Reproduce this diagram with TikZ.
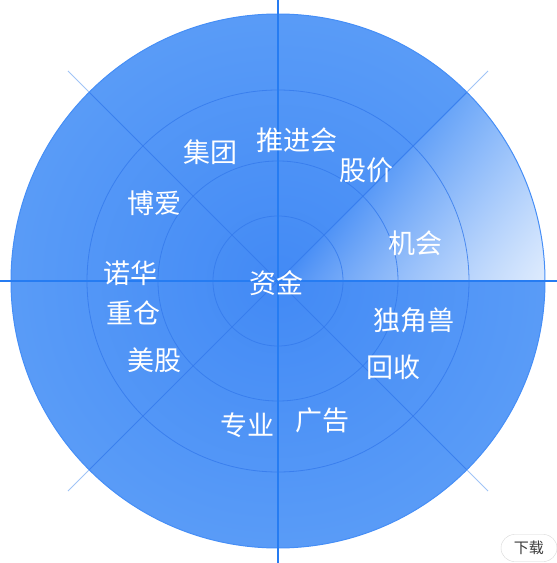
\documentclass[tikz,border=0pt]{standalone}
\usepackage{fontspec}
\newfontfamily\cjk{Noto Sans CJK SC}
\usetikzlibrary{shapes.misc}
\definecolor{gridline}{RGB}{52,122,236}
\definecolor{axisline}{RGB}{38,124,242}
\definecolor{rimline}{RGB}{70,142,246}
\definecolor{spokeout}{RGB}{160,196,246}
\definecolor{btnedge}{RGB}{215,215,215}
\definecolor{btntext}{RGB}{60,60,60}
% blue disc, white sweep between 0 and 45 degrees
\pgfdeclarefunctionalshading{radar}{\pgfpointorigin}{\pgfpoint{100bp}{100bp}}{}{
  50.0013 sub exch 50.0017 sub
  2 copy dup mul exch dup mul add sqrt 25 div
  3 1 roll atan
  dup 45 le {45 div 1.3 exp 0.85 mul 1 exch sub} {pop 0} ifelse
  1 index 0.85 exp mul 0.8 mul
  dup 1 gt {pop 1} if
  1 index 0.09 mul 0.26 add 1 index 1 exch sub mul 1 index add 3 1 roll
  1 index 0.07 mul 0.54 add 1 index 1 exch sub mul 1 index add 3 1 roll
  1 index 0.01 mul 0.96 add 1 index 1 exch sub mul 1 index add 3 1 roll
  pop pop
}
\tikzset{
  ring/.style={draw=gridline,line width=0.8pt,draw opacity=0.8},
  rim/.style={draw=rimline,line width=1pt},
  spoke/.style={draw=gridline,line width=0.8pt,draw opacity=0.8},
  spoke out/.style={draw=spokeout,line width=0.8pt},
  axis/.style={draw=axisline,line width=1.5pt},
  word/.style={text=white,inner sep=0pt,font=\cjk\fontsize{27}{27}\selectfont},
  btn/.style={rounded rectangle,draw=btnedge,fill=white,text=btntext,
    minimum width=56pt,minimum height=27pt,inner sep=0pt,
    font=\cjk\fontsize{15}{15}\selectfont},
}
\begin{document}
\begin{tikzpicture}[x=1pt,y=1pt]
  \useasboundingbox (-278,-282) rectangle (279,281);
  \coordinate (O) at (0,0);
  \shade[shading=radar] (O) circle (267);
  \foreach \r in {65,120,191}
    \draw[ring] (O) circle (\r);
  \draw[rim] (O) circle (267);
  \foreach \a in {45,135,225,315} {
    \draw[spoke] (O) -- (\a:267);
    \draw[spoke out] (\a:267) -- (\a:297);
  }
  \draw[axis] (-278,0) -- (279,0);
  \draw[axis] (0,-282) -- (0,281);

  \foreach \t/\x/\y [count=\i] in {
    推进会/19/141, 集团/-67/129, 股价/89/111, 博爱/-123/78, 机会/138/38,
    诺华/-147/8, 重仓/-144/-32, 美股/-123/-79, 资金/-1/-2, 专业/-30/-144,
    广告/45/-139, 独角兽/136/-39, 回收/116/-86}
    \node[word] (w\i) at (\x,\y) {\t};

  \node[btn] (dl) at (251,-267) {下载};
\end{tikzpicture}
\end{document}
